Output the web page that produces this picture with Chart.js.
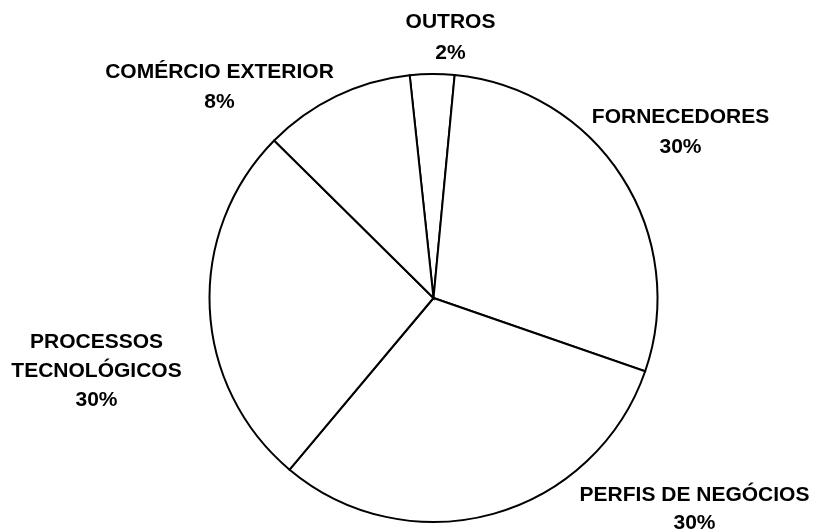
<!DOCTYPE html>
<html>
<head>
<meta charset="utf-8">
<title>Pie</title>
<script src="https://cdn.jsdelivr.net/npm/chart.js@4.4.1/dist/chart.umd.min.js"></script>
<style>
  html, body { margin: 0; padding: 0; background: #fff; }
  #pie { display: block; }
</style>
</head>
<body>
<canvas id="pie" width="823" height="532"></canvas>
<script>
// slices clockwise from the top
const categories = ['OUTROS', 'FORNECEDORES', 'PERFIS DE NEGÓCIOS', 'PROCESSOS TECNOLÓGICOS', 'COMÉRCIO EXTERIOR'];
// slice sizes as drawn in the picture (they don't follow the printed % exactly)
const sliceValues = [3.2, 28.8, 30.8, 26.3, 10.9];
// percentages printed under each name
const percentLabels = ['2%', '30%', '30%', '30%', '8%'];
// how each name is broken into lines
const nameLines = [['OUTROS'], ['FORNECEDORES'], ['PERFIS DE NEGÓCIOS'], ['PROCESSOS', 'TECNOLÓGICOS'], ['COMÉRCIO EXTERIOR']];

// label placement, px from the pie centre (first line) and line gap
const labelOffsets = [[17, -276], [247, -181], [261, 197], [-337, 44], [-214, -226]];
const lineGaps = [31, 30, 28, 29, 30];

const outerLabels = {
  id: 'outerLabels',
  afterDraw(chart) {
    const ctx = chart.ctx;
    const arcs = chart.getDatasetMeta(0).data;
    ctx.save();
    ctx.font = 'bold 21px "Liberation Sans", Arial, sans-serif';
    ctx.fillStyle = '#000';
    ctx.textAlign = 'center';
    ctx.textBaseline = 'middle';
    arcs.forEach((arc, i) => {
      const x = arc.x + labelOffsets[i][0];
      const y = arc.y + labelOffsets[i][1];
      const lines = nameLines[i].concat(percentLabels[i]);
      lines.forEach((line, j) => ctx.fillText(line, x, y + j * lineGaps[i]));
    });
    ctx.restore();
  }
};

new Chart(document.getElementById('pie'), {
  type: 'pie',
  data: {
    labels: categories,
    datasets: [{
      data: sliceValues,
      backgroundColor: '#fff',
      borderColor: '#000',
      borderWidth: 2,
      borderJoinStyle: 'miter'
    }]
  },
  options: {
    responsive: false,
    animation: false,
    rotation: -6.1,
    layout: { padding: { top: 73, bottom: 9, left: 208, right: 164 } },
    plugins: {
      legend: { display: false },
      tooltip: { enabled: false }
    }
  },
  plugins: [outerLabels]
});
</script>
</body>
</html>
